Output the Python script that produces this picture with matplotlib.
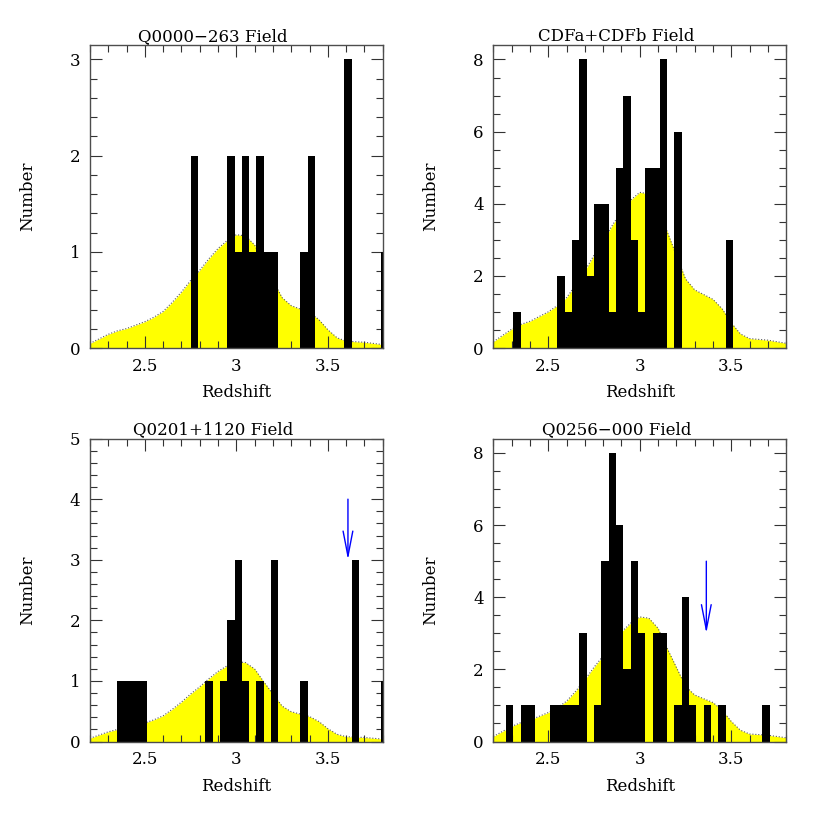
import numpy as np
import matplotlib.pyplot as plt
from matplotlib.ticker import MultipleLocator

plt.rcParams['font.family'] = 'DejaVu Serif'
plt.rcParams['font.size'] = 12

# histogram bins: width 0.04, first left edge 2.19 (41 bins up to 3.83)
bin_left = 2.19
bin_width = 0.04

titles = ["Q0000\u2212263 Field", "CDFa+CDFb Field", "Q0201+1120 Field", "Q0256\u2212000 Field"]

counts_q0000 = [0, 0, 0, 0, 0, 0, 0, 0, 0, 0, 0, 0, 0, 0, 2, 0, 0, 0, 0, 2, 1,
                2, 1, 2, 1, 1, 0, 0, 0, 1, 2, 0, 0, 0, 0, 3, 0, 0, 0, 0, 1]
counts_cdf = [0, 0, 0, 1, 0, 0, 0, 0, 0, 2, 1, 3, 8, 2, 4, 4, 1, 5, 7, 3, 1,
              5, 5, 8, 0, 6, 0, 0, 0, 0, 0, 0, 3, 0, 0, 0, 0, 0, 0, 0, 0]
counts_q0201 = [0, 0, 0, 0, 1, 1, 1, 1, 0, 0, 0, 0, 0, 0, 0, 0, 1, 0, 1, 2, 3,
                1, 0, 1, 0, 3, 0, 0, 0, 1, 0, 0, 0, 0, 0, 0, 3, 0, 0, 0, 1]
counts_q0256 = [0, 0, 1, 0, 1, 1, 0, 0, 1, 1, 1, 1, 3, 0, 1, 5, 8, 6, 2, 5, 3,
                0, 3, 3, 0, 1, 4, 1, 0, 1, 0, 1, 0, 0, 0, 0, 0, 1, 0, 0, 0]

# selection function (normalised shape) and its peak in each field
sel_z = [2.2, 2.25, 2.3, 2.35, 2.4, 2.45, 2.5, 2.55, 2.6, 2.65, 2.7, 2.75, 2.8,
         2.85, 2.9, 2.95, 3.0, 3.05, 3.1, 3.15, 3.2, 3.25, 3.3, 3.35, 3.4,
         3.45, 3.5, 3.55, 3.6, 3.65, 3.7, 3.75, 3.8]
sel_shape = [0.04, 0.08, 0.12, 0.15, 0.17, 0.20, 0.23, 0.27, 0.32, 0.40, 0.49,
             0.59, 0.68, 0.78, 0.87, 0.94, 0.99, 0.98, 0.90, 0.74, 0.59, 0.44,
             0.37, 0.34, 0.31, 0.25, 0.16, 0.09, 0.06, 0.055, 0.05, 0.04, 0.03]
sel_peak = [1.19, 4.36, 1.33, 3.49]

ymax = [3.15, 8.4, 5.0, 8.4]
ymajor = [1, 2, 1, 2]
yminor = [0.2, 0.5, 0.2, 0.5]

# arrows (z, from, to); None = no arrow
arrows = [None, None, (3.61, 4.0, 3.0), (3.364, 5.0, 3.0)]

all_counts = [counts_q0000, counts_cdf, counts_q0201, counts_q0256]

fig = plt.figure(figsize=(8.3, 8.3), dpi=100)
lefts = [0.1084, 0.5944, 0.1084, 0.5944]
bottoms = [0.5807, 0.5807, 0.1066, 0.1066]

edges = bin_left + bin_width * np.arange(41)

for i in range(4):
    ax = fig.add_axes([lefts[i], bottoms[i], 0.3527, 0.365])
    y = np.array(sel_shape) * sel_peak[i]
    ax.fill_between(sel_z, 0, y, color='yellow', lw=0, zorder=1)
    ax.plot(sel_z, y, color='0.35', lw=0.8, ls=':', zorder=1.5)
    ax.bar(edges, all_counts[i], width=bin_width, align='edge', color='black',
           lw=0, zorder=2)

    if arrows[i] is not None:
        z, y0, y1 = arrows[i]
        ax.annotate('', xy=(z, y1), xytext=(z, y0),
                    arrowprops=dict(arrowstyle='->, head_length=1.8, head_width=0.35',
                                    color='blue', lw=1, mutation_scale=10,
                                    shrinkA=0, shrinkB=0), zorder=3)

    ax.set_xlim(2.2, 3.8)
    ax.set_ylim(0, ymax[i])
    ax.xaxis.set_major_locator(MultipleLocator(0.5))
    ax.xaxis.set_minor_locator(MultipleLocator(0.1))
    ax.yaxis.set_major_locator(MultipleLocator(ymajor[i]))
    ax.yaxis.set_minor_locator(MultipleLocator(yminor[i]))
    ax.set_xticks([2.5, 3.0, 3.5])
    ax.set_xticklabels(['2.5', '3', '3.5'])
    ax.tick_params(which='both', direction='in', top=True, right=True,
                   color='0.2', width=0.8)
    ax.tick_params(which='major', length=8.5, pad=7)
    ax.tick_params(which='minor', length=5)
    for s in ax.spines.values():
        s.set_color('0.3')
        s.set_linewidth(1)

    ax.set_xlabel('Redshift', labelpad=7)
    ax.set_ylabel('Number')
    ax.yaxis.set_label_coords(-0.185, 0.5)
    ax.text(0.42, 1.0, titles[i], transform=ax.transAxes, ha='center',
            va='bottom')

fig.savefig('out.png', dpi=100)
